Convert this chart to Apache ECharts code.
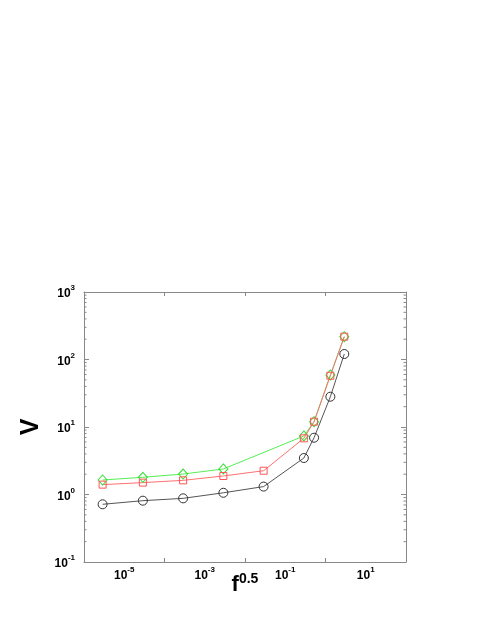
<!DOCTYPE html>
<html>
<head>
<meta charset="utf-8">
<script src="https://cdn.jsdelivr.net/npm/echarts@6/dist/echarts.min.js"></script>
<style>
html,body{margin:0;padding:0;background:#fff;}
#c{width:491px;height:635px;}
</style>
</head>
<body>
<div id="c"></div>
<script>
// ---- data ----
const xValues = [2.9e-6, 2.9e-5, 2.9e-4, 2.9e-3, 2.9e-2, 0.29, 0.52, 1.32, 2.93];
const blackV  = [0.716, 0.81, 0.877, 1.06, 1.31, 3.47, 6.94, 28.1, 120.6];
const redV    = [1.40, 1.50, 1.62, 1.88, 2.25, 6.8, 12.0, 57.5, 218];
const greenX  = [2.9e-6, 2.9e-5, 2.9e-4, 2.9e-3, 0.29, 0.52, 1.32, 2.93];
const greenV  = [1.64, 1.80, 2.01, 2.39, 7.36, 12.0, 59, 218];
const xMin = 1e-6, xMax = 1e2;
const yMin = 0.1, yMax = 1000;
const yDecades = [-1, 0, 1, 2];

function pairs(xs, ys){ return xs.map((x,i)=>[x, ys[i]]); }

// minor tick values 2..9 per decade (axis structure)
const minorVals = [];
yDecades.forEach(d => { for (let k = 2; k <= 9; k++) minorVals.push([xMin, k*Math.pow(10,d)]); });

const axisColor = '#888';
const rich = {
  b: {fontFamily:'Liberation Sans', fontSize:12, fontWeight:'bold', color:'#000', lineHeight:16, verticalAlign:'bottom'},
  s: {fontFamily:'Liberation Sans', fontSize:8, fontWeight:'bold', color:'#000', lineHeight:10, verticalAlign:'top'}
};
function expLabel(v){
  const e = Math.round(Math.log10(v));
  return '{b|10}{s|' + e + '}';
}

const grid = {left:84, right:85, top:292, bottom:73, containLabel:false};

const option = {
  animation:false,
  backgroundColor:'#fff',
  grid: grid,
  xAxis: [
    { // bottom ticks at even decades
      type:'log', logBase:100, min:xMin, max:xMax, splitNumber:4, position:'bottom',
      axisLine:{show:true, lineStyle:{color:axisColor, width:1}},
      axisTick:{show:true, inside:true, length:4, lineStyle:{color:axisColor}},
      axisLabel:{show:false}, splitLine:{show:false},
      name:'{f|f}{p|0.5}', nameLocation:'middle', nameGap:10,
      nameTextStyle:{rich:{
        f:{fontFamily:'Liberation Sans', fontSize:22, fontWeight:'bold', color:'#000', lineHeight:24, verticalAlign:'bottom'},
        p:{fontFamily:'Liberation Sans', fontSize:14, fontWeight:'bold', color:'#000', lineHeight:14, verticalAlign:'top'}
      }}
    },
    { // bottom labels at odd decades
      type:'log', logBase:10, min:xMin, max:xMax, splitNumber:8, position:'bottom',
      axisLine:{show:false}, axisTick:{show:false}, splitLine:{show:false},
      axisLabel:{show:true, margin:4, rich:rich, formatter:function(v){
        const e = Math.round(Math.log10(v));
        return (Math.abs(e) % 2 === 1) ? expLabel(v) : '';
      }}
    },
    { // top mirror
      type:'log', logBase:100, min:xMin, max:xMax, splitNumber:4, position:'top',
      axisLine:{show:true, lineStyle:{color:axisColor, width:1}},
      axisTick:{show:true, inside:true, length:4, lineStyle:{color:axisColor}},
      axisLabel:{show:false}, splitLine:{show:false}
    }
  ],
  yAxis: [
    {
      type:'log', logBase:10, min:yMin, max:yMax, splitNumber:4, position:'left',
      axisLine:{show:true, lineStyle:{color:axisColor, width:1}},
      axisTick:{show:true, inside:true, length:5, lineStyle:{color:axisColor}},
      minorTick:{show:false}, splitLine:{show:false},
      axisLabel:{show:true, margin:9, rich:rich, formatter:expLabel},
      name:'V', nameLocation:'middle', nameRotate:90, nameGap:29,
      nameTextStyle:{fontFamily:'Liberation Sans', fontSize:25, fontWeight:'bold', color:'#000'}
    },
    {
      type:'log', logBase:10, min:yMin, max:yMax, splitNumber:4, position:'right',
      axisLine:{show:true, lineStyle:{color:axisColor, width:1}},
      axisTick:{show:true, inside:true, length:5, lineStyle:{color:axisColor}},
      axisLabel:{show:false}, splitLine:{show:false}
    }
  ],
  series: [
    {
      type:'custom', xAxisIndex:0, yAxisIndex:0, silent:true, clip:false,
      data: minorVals, z:1,
      renderItem:function(params, api){
        const v = api.value(1);
        const pl = api.coord([xMin, v]);
        const pr = api.coord([xMax, v]);
        return {type:'group', children:[
          {type:'line', shape:{x1:pl[0], y1:pl[1], x2:pl[0]+2.5, y2:pl[1]}, style:{stroke:axisColor, lineWidth:1}},
          {type:'line', shape:{x1:pr[0], y1:pr[1], x2:pr[0]-2.5, y2:pr[1]}, style:{stroke:axisColor, lineWidth:1}}
        ]};
      }
    },
    {
      name:'black', type:'line', xAxisIndex:0, yAxisIndex:0,
      data: pairs(xValues, blackV),
      symbol:'circle', symbolSize:9,
      lineStyle:{color:'#555', width:1},
      itemStyle:{color:'rgba(0,0,0,0)', borderColor:'#333', borderWidth:1}
    },
    {
      name:'green', type:'line', xAxisIndex:0, yAxisIndex:0,
      data: pairs(greenX, greenV),
      symbol:'diamond', symbolSize:[9,10],
      lineStyle:{color:'#55ee55', width:1},
      itemStyle:{color:'rgba(0,0,0,0)', borderColor:'#33dd33', borderWidth:1}
    },
    {
      name:'red', type:'line', xAxisIndex:0, yAxisIndex:0,
      data: pairs(xValues, redV),
      symbol:'rect', symbolSize:7,
      lineStyle:{color:'#ff7070', width:1},
      itemStyle:{color:'rgba(0,0,0,0)', borderColor:'#ff5555', borderWidth:1}
    }
  ]
};

const chart = echarts.init(document.getElementById('c'), null, {renderer:'canvas'});
chart.setOption(option);
</script>
</body>
</html>
